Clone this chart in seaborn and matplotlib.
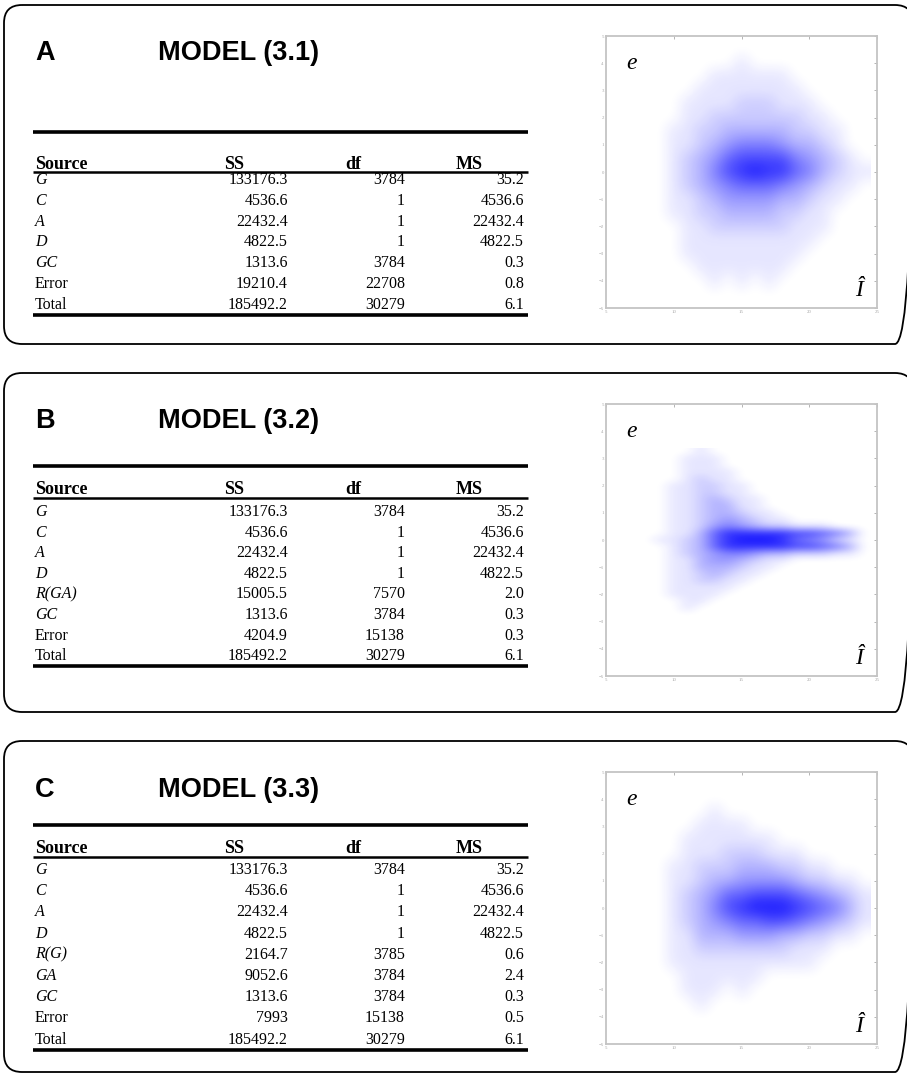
import matplotlib

matplotlib.use("Agg")
import matplotlib.pyplot as plt
import numpy as np
import seaborn as sns
from matplotlib.colors import ListedColormap
from matplotlib.patches import FancyBboxPatch

sns.set_theme(style="white")
plt.rcParams["font.family"] = ["Liberation Serif", "DejaVu Serif"]
plt.rcParams["text.color"] = "black"

W, H = 907, 1076

# ---- ANOVA tables --------------------------------------------------------
SOURCES_A = ["G", "C", "A", "D", "GC", "Error", "Total"]
SS_A = [133176.3, 4536.6, 22432.4, 4822.5, 1313.6, 19210.4, 185492.2]
DF_A = [3784, 1, 1, 1, 3784, 22708, 30279]
MS_A = [35.2, 4536.6, 22432.4, 4822.5, 0.3, 0.8, 6.1]

SOURCES_B = ["G", "C", "A", "D", "R(GA)", "GC", "Error", "Total"]
SS_B = [133176.3, 4536.6, 22432.4, 4822.5, 15005.5, 1313.6, 4204.9, 185492.2]
DF_B = [3784, 1, 1, 1, 7570, 3784, 15138, 30279]
MS_B = [35.2, 4536.6, 22432.4, 4822.5, 2.0, 0.3, 0.3, 6.1]

SOURCES_C = ["G", "C", "A", "D", "R(G)", "GA", "GC", "Error", "Total"]
SS_C = [133176.3, 4536.6, 22432.4, 4822.5, 2164.7, 9052.6, 1313.6, 7993, 185492.2]
DF_C = [3784, 1, 1, 1, 3785, 3784, 3784, 15138, 30279]
MS_C = [35.2, 4536.6, 22432.4, 4822.5, 0.6, 2.4, 0.3, 0.5, 6.1]

UPRIGHT = {"Error", "Total"}

# ---- residual (e) vs fitted (I-hat) point density ----
# columns: fitted value 6..24, rows: residual from top to bottom, 0 = empty, 9 = densest
FIT_X = list(range(6, 25))

RESID_Y_A = [4.5, 4.0, 3.5, 3.0, 2.5, 2.0, 1.5, 1.0, 0.5, 0.0,
             -0.5, -1.0, -1.5, -2.0, -2.5, -3.0, -3.5, -4.0, -4.5]
DENSITY_A = [
    "0000000000000000000",
    "0000000001000000000",
    "0000000111111000000",
    "0000001111111100000",
    "0000011112221110000",
    "0000011222222211000",
    "0000112233333221100",
    "0000112345554332100",
    "0000123467777543210",
    "0000123578988653211",
    "0000123456665432110",
    "0000112344443321100",
    "0000112233332211000",
    "0000011222222111000",
    "0000011111111110000",
    "0000011111111100000",
    "0000001111111000000",
    "0000000101010000000",
    "0000000000000000000",
]

RESID_Y_B = [3.25, 3.0, 2.75, 2.5, 2.25, 2.0, 1.75, 1.5, 1.25, 1.0, 0.75, 0.5, 0.25,
             0.0, -0.25, -0.5, -0.75, -1.0, -1.25, -1.5, -1.75, -2.0, -2.25, -2.5, -2.75]
DENSITY_B = [
    "0000001000000000000",
    "0000011100000000000",
    "0000011100000000000",
    "0000011110000000000",
    "0000012110000000000",
    "0000112211000000000",
    "0000112211000000000",
    "0000112321100000000",
    "0000112331100000000",
    "0000112332110000000",
    "0000112343211000000",
    "0000112454322111000",
    "0000113688888776530",
    "0001123689998654210",
    "0000123688888776530",
    "0000123455433222110",
    "0000113443211000000",
    "0000113332110000000",
    "0000112321100000000",
    "0000112211000000000",
    "0000111110000000000",
    "0000111100000000000",
    "0000011000000000000",
    "0000010000000000000",
    "0000000000000000000",
]

RESID_Y_C = RESID_Y_A
DENSITY_C = [
    "0000000000000000000",
    "0000000000000000000",
    "0000000100000000000",
    "0000001111000000000",
    "0000011111110000000",
    "0000011122211100000",
    "0000112223332211000",
    "0000112334444322110",
    "0000123466777654321",
    "0000123578999876531",
    "0000123456677654321",
    "0000113334443322110",
    "0000112222222111000",
    "0000111111111110000",
    "0000011111100000000",
    "0000011101000000000",
    "0000001000000000000",
    "0000000000000000000",
    "0000000000000000000",
]

X_TICKS = [5, 10, 15, 20, 25]
Y_TICKS = [-5, -4, -3, -2, -1, 0, 1, 2, 3, 4, 5]

PANELS = [
    dict(letter="A", model="MODEL (3.1)", top=5, height=339, title_y=53,
         rule_top=132, header_base=169, header_rule=172, first_row=179, step=20.8,
         sources=SOURCES_A, ss=SS_A, df=DF_A, ms=MS_A,
         resid=RESID_Y_A, dens=DENSITY_A),
    dict(letter="B", model="MODEL (3.2)", top=373, height=339, title_y=421,
         rule_top=466, header_base=494, header_rule=498, first_row=511, step=20.6,
         sources=SOURCES_B, ss=SS_B, df=DF_B, ms=MS_B,
         resid=RESID_Y_B, dens=DENSITY_B),
    dict(letter="C", model="MODEL (3.3)", top=741, height=331, title_y=790,
         rule_top=825, header_base=853, header_rule=857, first_row=869, step=21.2,
         sources=SOURCES_C, ss=SS_C, df=DF_C, ms=MS_C,
         resid=RESID_Y_C, dens=DENSITY_C),
]

fig = plt.figure(figsize=(W / 100, H / 100), dpi=100)
canvas = fig.add_axes([0, 0, 1, 1])
canvas.set_xlim(0, W)
canvas.set_ylim(H, 0)
canvas.axis("off")

BODY = 11.5
HEAD = 13.0

blue_cmap = ListedColormap([(0.0, 0.0, 1.0, a) for a in np.linspace(0, 0.9, 256)])


def draw_table(p):
    x0, x1 = 33, 528
    canvas.plot([x0, x1], [p["rule_top"]] * 2, color="black", lw=2.6, solid_capstyle="butt")
    canvas.plot([x0, x1], [p["header_rule"]] * 2, color="black", lw=1.8, solid_capstyle="butt")
    for x, s in [(35, "Source"), (224, "SS"), (345, "df"), (456, "MS")]:
        canvas.text(x, p["header_base"], s, fontsize=HEAD, weight="bold", va="baseline", ha="left")
    y = p["first_row"]
    for src, ss, df, ms in zip(p["sources"], p["ss"], p["df"], p["ms"]):
        style = "normal" if src in UPRIGHT else "italic"
        canvas.text(35, y + 5, src, fontsize=BODY, style=style, va="baseline")
        canvas.text(288, y + 5, str(ss), fontsize=BODY, va="baseline", ha="right")
        canvas.text(405, y + 5, str(df), fontsize=BODY, va="baseline", ha="right")
        canvas.text(524, y + 5, str(ms), fontsize=BODY, va="baseline", ha="right")
        last = y
        y += p["step"]
    canvas.plot([x0, x1], [last + 11] * 2, color="black", lw=2.6, solid_capstyle="butt")


def draw_scatter(p):
    ax_top = p["top"] + 31
    ax = fig.add_axes([606 / W, 1 - (ax_top + 272) / H, 271 / W, 272 / H])
    dens = np.array([[int(c) for c in row] for row in p["dens"]], dtype=float)
    ys = p["resid"]
    dy = abs(ys[0] - ys[1])
    ax.imshow(dens, cmap=blue_cmap, vmin=0, vmax=9,
              extent=(FIT_X[0] - 0.5, FIT_X[-1] + 0.5, ys[-1] - dy / 2, ys[0] + dy / 2),
              origin="upper", aspect="auto", interpolation="bicubic",
              interpolation_stage="data")
    ax.set_xlim(5, 25)
    ax.set_ylim(-5, 5)
    ax.set_xticks(X_TICKS)
    ax.set_yticks(Y_TICKS)
    ax.tick_params(direction="in", length=2.5, width=0.6, colors="#a8a8a8",
                   labelsize=3.5, top=True, right=True, pad=1.5)
    ax.grid(False)
    for sp in ax.spines.values():
        sp.set_color("#c4c4c4")
        sp.set_linewidth(1.3)
    ax.text(6.9, 4.0, "e", fontsize=17, style="italic", ha="center", va="center")
    ax.text(23.7, -4.35, "Î", fontsize=17, style="italic", ha="center", va="center")


for p in PANELS:
    box = FancyBboxPatch((4, p["top"]), 909, p["height"],
                         boxstyle="round,pad=0,rounding_size=18",
                         fill=False, lw=1.3, ec="black")
    canvas.add_patch(box)
    canvas.text(35, p["title_y"], p["letter"], fontsize=19.5, weight="bold",
                family="Liberation Sans", va="center")
    canvas.text(158, p["title_y"], p["model"], fontsize=19.5, weight="bold",
                family="Liberation Sans", va="center")
    draw_table(p)
    draw_scatter(p)

fig.savefig("out.png", dpi=100)
